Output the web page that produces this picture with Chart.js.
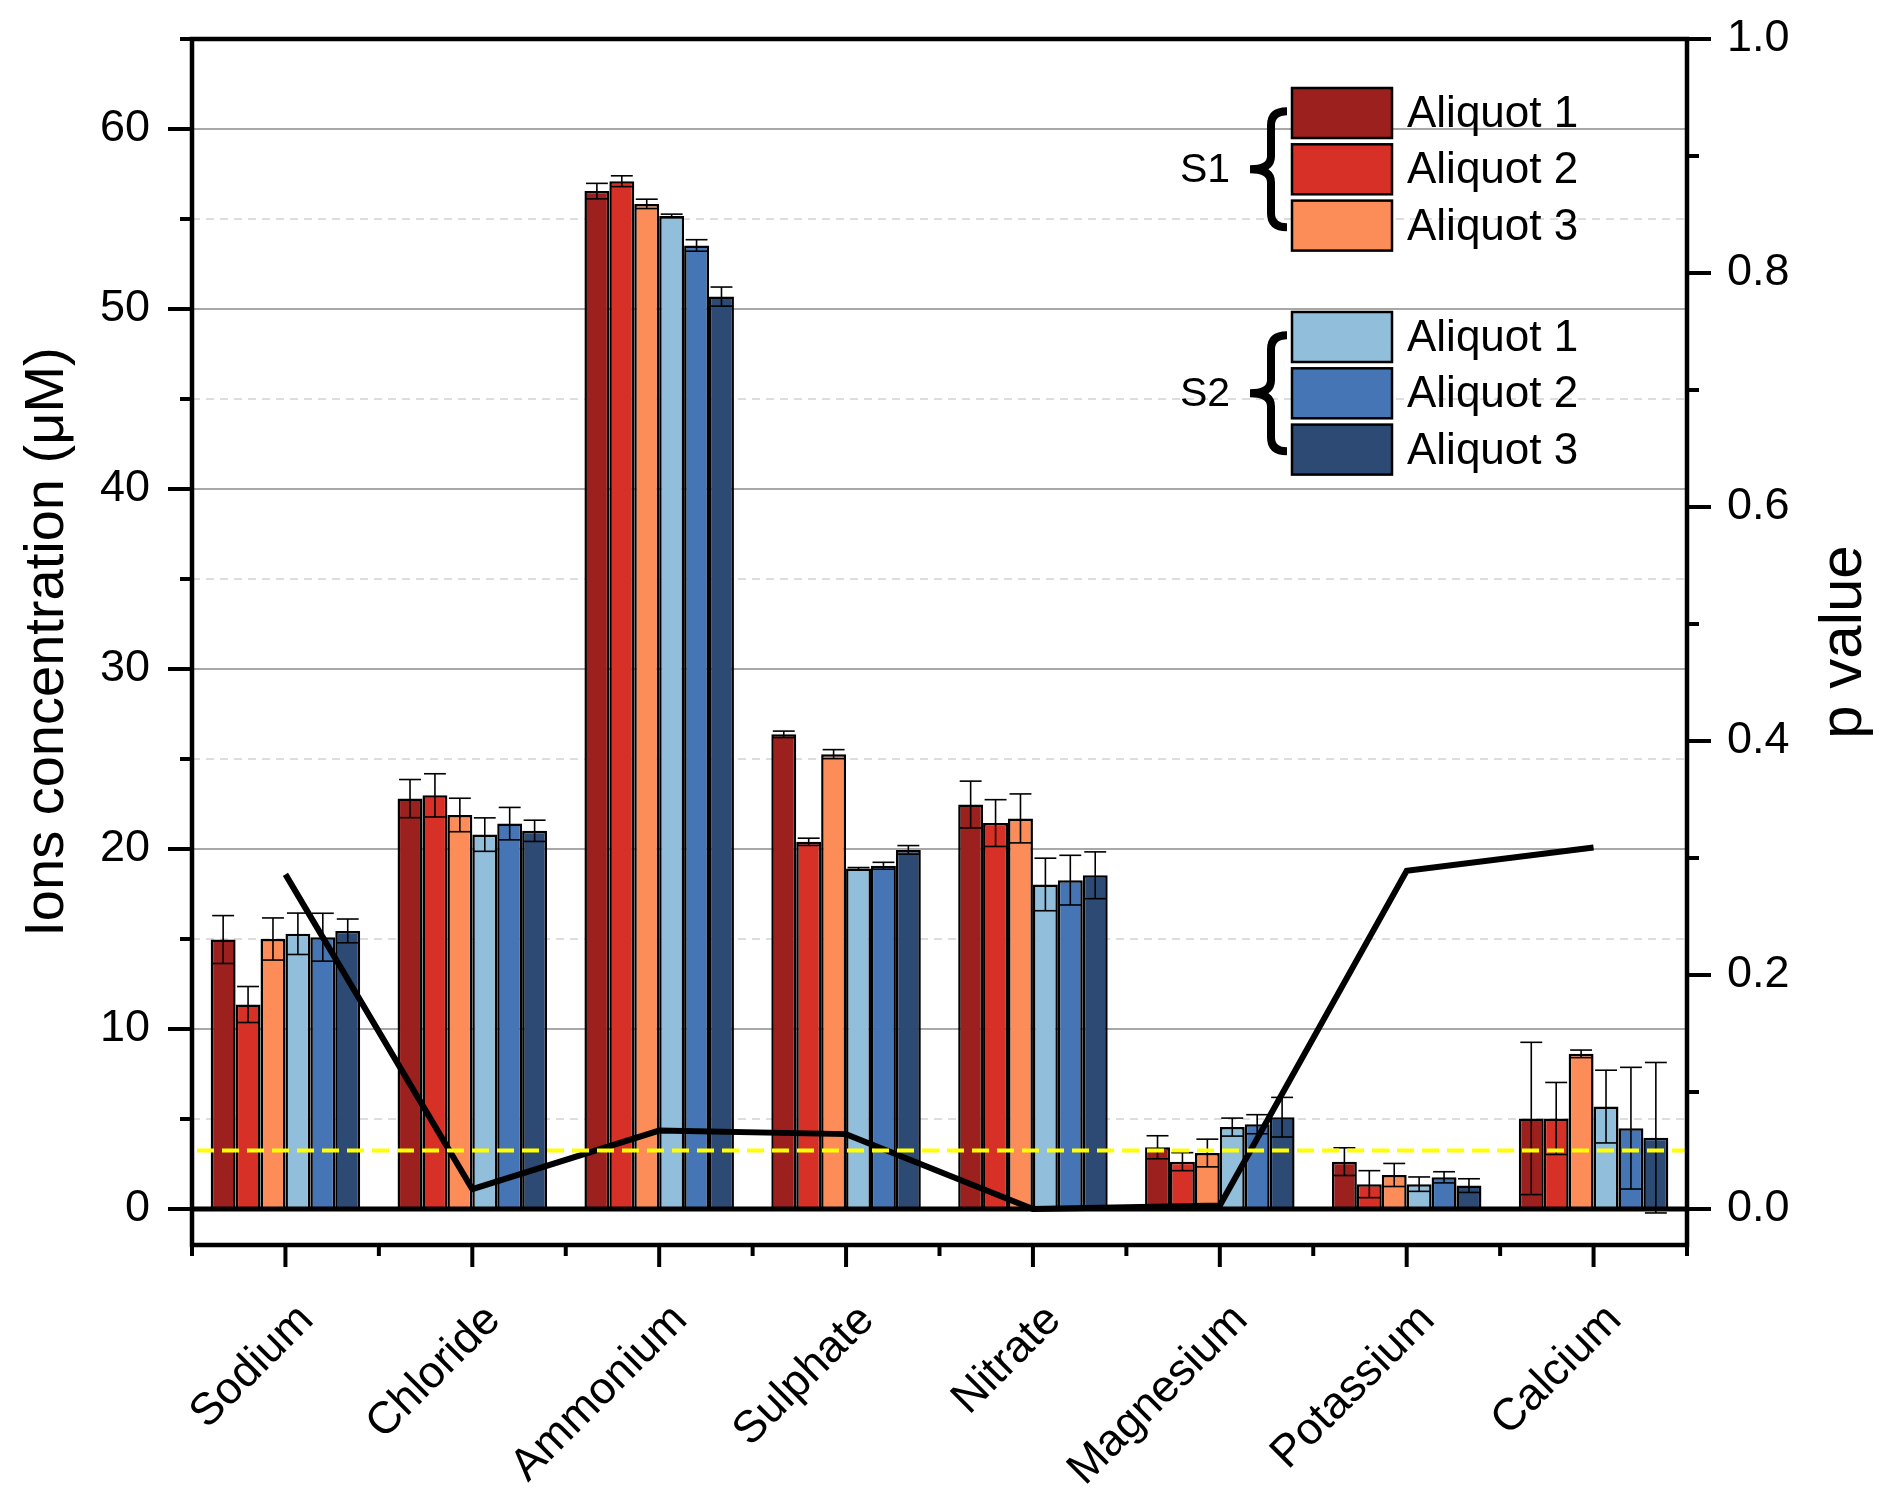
<!DOCTYPE html>
<html>
<head>
<meta charset="utf-8">
<script src="https://cdn.jsdelivr.net/npm/chart.js@4.4.1/dist/chart.umd.min.js"></script>
<style>
  html, body { margin: 0; padding: 0; background: #fff; }
  #wrap { width: 1892px; height: 1501px; }
</style>
</head>
<body>
<div id="wrap"><canvas id="ionChart"></canvas></div>
<script>
// categories and series
const ions = ['Sodium', 'Chloride', 'Ammonium', 'Sulphate', 'Nitrate', 'Magnesium', 'Potassium', 'Calcium'];
const seriesNames = ['Aliquot 1', 'Aliquot 2', 'Aliquot 3', 'Aliquot 1', 'Aliquot 2', 'Aliquot 3'];
const groupNames = ['S1', 'S2'];

// mean concentrations (µM)
const s1a1 = [14.97, 22.80, 56.55, 26.37, 22.47, 3.43, 2.63, 5.03];
const s1a2 = [11.36, 22.98, 57.10, 20.40, 21.44, 2.63, 1.38, 5.03];
const s1a3 = [15.00, 21.89, 55.84, 25.27, 21.70, 3.11, 1.89, 8.62];
const s2a1 = [15.29, 20.80, 55.17, 18.91, 18.03, 4.55, 1.38, 5.69];
const s2a2 = [15.10, 21.41, 53.53, 19.07, 18.27, 4.71, 1.76, 4.49];
const s2a3 = [15.45, 21.01, 50.69, 19.95, 18.54, 5.10, 1.30, 3.96];

// standard deviations
const s1a1Err = [1.33, 1.06, 0.43, 0.18, 1.30, 0.64, 0.77, 4.23];
const s1a2Err = [1.00, 1.20, 0.30, 0.20, 1.30, 0.50, 0.75, 2.00];
const s1a3Err = [1.17, 0.93, 0.26, 0.25, 1.36, 0.77, 0.64, 0.21];
const s2a1Err = [1.15, 0.93, 0.10, 0.06, 1.46, 0.50, 0.40, 2.02];
const s2a2Err = [1.33, 0.90, 0.32, 0.19, 1.38, 0.53, 0.31, 3.38];
const s2a3Err = [0.66, 0.59, 0.53, 0.24, 1.30, 1.10, 0.38, 4.18];

// p values (right axis) and significance threshold
const pValues = [0.286, 0.017, 0.067, 0.064, 0.000, 0.003, 0.289, 0.309];
const pThreshold = 0.05;

// axes
const concMin = -2, concMax = 65;
const concTicks = [0, 10, 20, 30, 40, 50, 60];
const concMinorTicks = [5, 15, 25, 35, 45, 55, 65];
const pMax = 1.0;
const pTicks = ['0.0', '0.2', '0.4', '0.6', '0.8', '1.0'];
const pMinorTicks = [0.1, 0.3, 0.5, 0.7, 0.9];

const colors = ['#9c211e', '#d73027', '#fc8d59', '#91bfdb', '#4575b4', '#2c4a74'];
const means = [s1a1, s1a2, s1a3, s2a1, s2a2, s2a3];
const errs = [s1a1Err, s1a2Err, s1a3Err, s2a1Err, s2a2Err, s2a3Err];

const FONT = "'Liberation Sans', Arial, sans-serif";
Chart.defaults.font.family = FONT;
Chart.defaults.color = '#000';

function hline(ctx, x1, x2, y) { ctx.beginPath(); ctx.moveTo(x1, y); ctx.lineTo(x2, y); ctx.stroke(); }
function vline(ctx, x, y1, y2) { ctx.beginPath(); ctx.moveTo(x, y1); ctx.lineTo(x, y2); ctx.stroke(); }

const decor = {
  id: 'decor',
  beforeDatasetsDraw(chart) {
    const { ctx, chartArea: a, scales: { y } } = chart;
    ctx.save();
    ctx.strokeStyle = '#a8a8a8';
    ctx.lineWidth = 2;
    concTicks.forEach(v => { if (v !== 0) hline(ctx, a.left, a.right, y.getPixelForValue(v)); });
    ctx.strokeStyle = '#d2d2d2';
    ctx.lineWidth = 1.5;
    ctx.setLineDash([8, 6]);
    concMinorTicks.forEach(v => { if (v < concMax) hline(ctx, a.left, a.right, y.getPixelForValue(v)); });
    ctx.restore();
  },
  afterDatasetsDraw(chart) {
    const { ctx, chartArea: a, scales: { x, y, p } } = chart;
    ctx.save();

    // error bars (bar datasets come after the line dataset)
    ctx.strokeStyle = '#000';
    ctx.lineWidth = 1.6;
    means.forEach((arr, d) => {
      const meta = chart.getDatasetMeta(d + 1);
      meta.data.forEach((bar, i) => {
        const hi = y.getPixelForValue(arr[i] + errs[d][i]);
        const lo = y.getPixelForValue(arr[i] - errs[d][i]);
        const hw = bar.width / 2 - 1.5;
        vline(ctx, bar.x, lo, hi);
        hline(ctx, bar.x - hw, bar.x + hw, hi);
        hline(ctx, bar.x - hw, bar.x + hw, lo);
      });
    });

    // p = 0.05 threshold
    ctx.strokeStyle = '#ffff00';
    ctx.lineWidth = 4;
    ctx.setLineDash([17, 8]);
    hline(ctx, a.left + 5, a.right, p.getPixelForValue(pThreshold));
    ctx.setLineDash([]);

    // zero line and frame
    ctx.strokeStyle = '#000';
    ctx.lineWidth = 5;
    hline(ctx, a.left, a.right, y.getPixelForValue(0));
    ctx.lineWidth = 4.5;
    ctx.lineCap = 'square';
    ctx.strokeRect(a.left, a.top, a.right - a.left, a.bottom - a.top);
    ctx.lineCap = 'butt';

    // tick marks
    ctx.lineWidth = 4;
    concTicks.forEach(v => hline(ctx, a.left - 24, a.left, y.getPixelForValue(v)));
    concMinorTicks.forEach(v => hline(ctx, a.left - 12, a.left, y.getPixelForValue(v)));
    pTicks.forEach(t => hline(ctx, a.right, a.right + 24, p.getPixelForValue(Number(t))));
    pMinorTicks.forEach(v => hline(ctx, a.right, a.right + 12, p.getPixelForValue(v)));
    ions.forEach((c, i) => {
      vline(ctx, x.getPixelForValue(i), a.bottom, a.bottom + 22);
      vline(ctx, x.getPixelForValue(i - 0.5), a.bottom, a.bottom + 11);
    });
    vline(ctx, x.getPixelForValue(ions.length - 0.5), a.bottom, a.bottom + 11);

    // category labels
    ctx.fillStyle = '#000';
    ctx.font = '45px ' + FONT;
    ctx.textAlign = 'right';
    ctx.textBaseline = 'middle';
    ions.forEach((c, i) => {
      ctx.save();
      ctx.translate(x.getPixelForValue(i) + 21, a.bottom + 68);
      ctx.rotate(-Math.PI / 4);
      ctx.fillText(c, 0, 0);
      ctx.restore();
    });

    // axis titles
    ctx.textAlign = 'center';
    const midY = (a.top + a.bottom) / 2;
    ctx.save();
    ctx.translate(48, midY);
    ctx.rotate(-Math.PI / 2);
    ctx.font = '56px ' + FONT;
    ctx.fillText('Ions concentration (\u03bcM)', 0, 0);
    ctx.restore();
    ctx.save();
    ctx.translate(1844, midY);
    ctx.rotate(-Math.PI / 2);
    ctx.font = '60px ' + FONT;
    ctx.fillText('p value', 0, 0);
    ctx.restore();

    // grouped legend
    const boxX = 1292, boxW = 100, boxH = 50, step = 56.3;
    const groupTop = [88, 312];
    groupNames.forEach((g, gi) => {
      const top = groupTop[gi];
      for (let k = 0; k < 3; k++) {
        const d = gi * 3 + k;
        const by = top + k * step;
        ctx.fillStyle = colors[d];
        ctx.fillRect(boxX, by, boxW, boxH);
        ctx.strokeStyle = '#000';
        ctx.lineWidth = 2.5;
        ctx.strokeRect(boxX, by, boxW, boxH);
        ctx.fillStyle = '#000';
        ctx.font = '44px ' + FONT;
        ctx.textAlign = 'left';
        ctx.fillText(seriesNames[d], 1407, by + boxH / 2 + 2);
      }
      const mid = top + step + boxH / 2;
      ctx.font = '41px ' + FONT;
      ctx.fillText(g, 1180, mid + 1);
      // brace
      const t = mid - 58, b = mid + 58, sx = 1271;
      ctx.lineWidth = 8;
      ctx.beginPath();
      ctx.moveTo(1287, t);
      ctx.quadraticCurveTo(sx, t, sx, t + 14);
      ctx.lineTo(sx, mid - 13);
      ctx.quadraticCurveTo(sx, mid, 1250, mid);
      ctx.quadraticCurveTo(sx, mid, sx, mid + 13);
      ctx.lineTo(sx, b - 14);
      ctx.quadraticCurveTo(sx, b, 1287, b);
      ctx.stroke();
    });

    ctx.restore();
  }
};

const barSets = means.map((arr, d) => ({
  type: 'bar',
  label: seriesNames[d],
  data: arr,
  yAxisID: 'y',
  backgroundColor: colors[d],
  borderColor: '#000',
  borderWidth: 2.5,
  categoryPercentage: 0.8,
  barPercentage: 1.0,
  order: 1
}));

function noPad(s) {
  s.paddingTop = 0; s.paddingBottom = 0; s.paddingLeft = 0; s.paddingRight = 0;
}

new Chart(document.getElementById('ionChart'), {
  data: {
    labels: ions,
    datasets: [
      {
        type: 'line',
        label: 'p value',
        data: pValues,
        yAxisID: 'p',
        borderColor: '#000',
        borderWidth: 6,
        pointRadius: 0,
        fill: false,
        tension: 0,
        order: 0
      },
      ...barSets
    ]
  },
  options: {
    responsive: true,
    maintainAspectRatio: false,
    animation: false,
    layout: { padding: { top: 39, left: 0, right: 0, bottom: 0 } },
    plugins: { legend: { display: false }, tooltip: { enabled: false } },
    scales: {
      x: {
        type: 'category',
        offset: true,
        grid: { display: false },
        border: { display: false },
        ticks: { display: false },
        afterFit: s => { s.height = 256; noPad(s); }
      },
      y: {
        position: 'left',
        min: concMin,
        max: concMax,
        grid: { display: false, drawTicks: false },
        border: { display: false },
        afterBuildTicks: s => { s.ticks = concTicks.concat(concMinorTicks).map(v => ({ value: v })); },
        ticks: {
          autoSkip: false,
          padding: 42,
          font: { size: 45 },
          callback: v => concTicks.includes(v) ? String(v) : ''
        },
        afterFit: s => { s.width = 192; noPad(s); }
      },
      p: {
        position: 'right',
        min: concMin / concMax * pMax,
        max: pMax,
        grid: { display: false, drawTicks: false },
        border: { display: false },
        afterBuildTicks: s => { s.ticks = pTicks.map(Number).concat(pMinorTicks).map(v => ({ value: v })); },
        ticks: {
          autoSkip: false,
          padding: 40,
          font: { size: 45 },
          callback: v => {
            const t = pTicks.find(l => Math.abs(Number(l) - v) < 1e-9);
            return t === undefined ? '' : t;
          }
        },
        afterFit: s => { s.width = 205; noPad(s); }
      }
    }
  },
  plugins: [decor]
});
</script>
</body>
</html>
